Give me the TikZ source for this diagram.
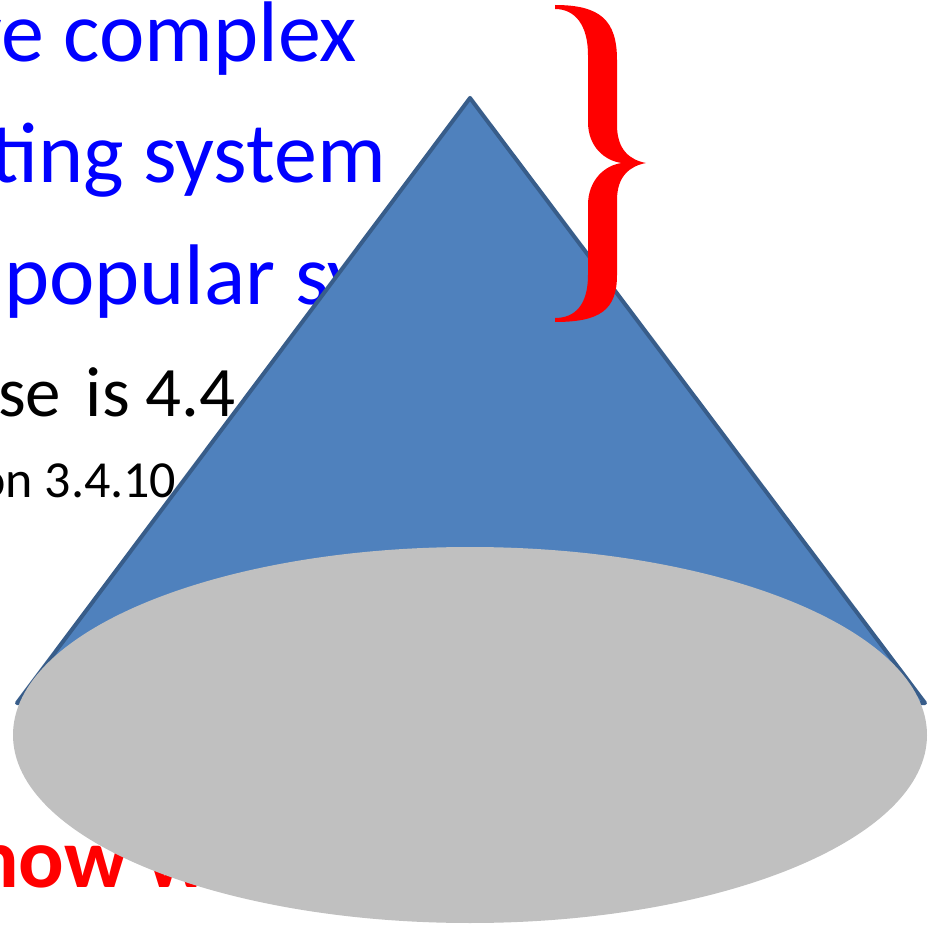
\documentclass[tikz,border=0pt]{standalone}
\usepackage{fontspec}
\setmainfont{Carlito}
\definecolor{coneblue}{HTML}{4F81BD}
\definecolor{coneedge}{HTML}{385D8A}
\definecolor{basegrey}{HTML}{C0C0C0}
\definecolor{txtblue}{HTML}{0000FF}
\definecolor{txtred}{HTML}{FF0000}
\tikzset{
  bluetxt/.style={inner sep=0pt, text=txtblue, font=\fontsize{86}{86}\selectfont},
  blacktxt/.style={inner sep=0pt, text=black},
  redtxt/.style={inner sep=0pt, text=txtred, font=\fontsize{85}{85}\selectfont\bfseries},
  cone/.style={fill=coneblue, draw=coneedge, line width=4pt, line join=round},
  basedisc/.style={fill=basegrey, draw=none},
  bracefill/.style={fill=txtred, draw=none}
}
\begin{document}
\begin{tikzpicture}[x=1pt,y=-1pt]
\useasboundingbox (0,0) rectangle (938,925);
\fill[white] (0,0) rectangle (938,925);
% text lines behind the cone
\node[bluetxt, anchor=base east] (l1) at (357,62) {ve complex};
\node[bluetxt, anchor=base east] (l2) at (386,183) {ting system};
\node[bluetxt, anchor=base west] (l3) at (4,305) {popular sy};
\node[blacktxt, anchor=base east, font=\fontsize{71}{71}\selectfont] (l4) at (236,417) {se\hspace{0.12em} is 4.4};
\node[blacktxt, anchor=base west, font=\fontsize{52}{52}\selectfont] (l5) at (-22,497) {on 3.4.10};
\node[redtxt, anchor=base west] (l6) at (-27,887) {how w};
% cone
\coordinate (apex) at (470,98);
\coordinate (bl) at (17,703);
\coordinate (br) at (925,703);
\draw[cone] (apex) -- (br) -- (bl) -- cycle;
\fill[basedisc] (470,735) ellipse [x radius=457, y radius=188];
% brace in front of the cone
\path[bracefill] (555,5)
  .. controls (600,5) and (617,20) .. (617,60)
  -- (617,125)
  .. controls (617,150) and (630,160) .. (646,163)
  .. controls (630,166) and (617,176) .. (617,200)
  -- (617,275)
  .. controls (617,310) and (600,322) .. (555,322)
  -- (555,318)
  .. controls (575,318) and (588,305) .. (588,275)
  -- (588,205)
  .. controls (588,180) and (605,165) .. (622,163)
  .. controls (605,161) and (588,147) .. (588,122)
  -- (588,55)
  .. controls (588,25) and (575,9) .. (555,9)
  -- cycle;
\end{tikzpicture}
\end{document}
